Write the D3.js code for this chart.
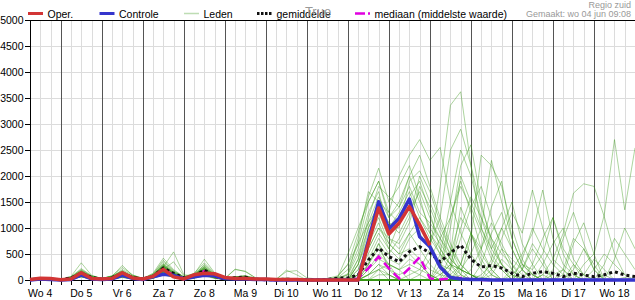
<!DOCTYPE html>
<html><head><meta charset="utf-8">
<script src="https://cdn.jsdelivr.net/npm/d3@7"></script>
<style>
body{margin:0;background:#fff}
svg{display:block}
text{font-family:"Liberation Sans",Arial,Helvetica,sans-serif}
</style>
</head><body>
<svg id="chart" width="635" height="300"></svg>
<script>
// time steps (hours since Wo 4 00:00)
const hours = [6,12,18,24,30,36,42,48,54,60,66,72,78,84,90,96,102,108,114,120,126,132,138,144,150,156,162,168,174,180,186,192,198,204,210,216,222,228,234,240,246,252,258,264,270,276,282,288,294,300,306,312,318,324,330,336,342,348,354,360];
const dayLabels = ["Wo 4","Do 5","Vr 6","Za 7","Zo 8","Ma 9","Di 10","Wo 11","Do 12","Vr 13","Za 14","Zo 15","Ma 16","Di 17","Wo 18"];
const dayLabelHours = [12,36,60,84,108,132,156,180,204,228,252,276,300,324,348];
const dayLineHours = [24,48,72,96,120,144,168,192,216,240,264,288,312,336,360];
const yTicks = [0,500,1000,1500,2000,2500,3000,3500,4000,4500,5000];

const oper = [10,35,30,5, 20,140,30,20, 30,140,40,20, 70,205,60,20, 100,130,120,50, 30,30,20,20, 10,10,10,0, 0,0,0,
  0,0,700,1385, 885,1095,1410,1060, 670];
const controle = [0,20,10,0, 10,100,20,10, 20,90,30,10, 60,110,90,20, 60,90,80,30, 20,20,10,10, 0,0,0,0, 0,0,0,
  0,0,750,1506, 980,1190,1555,830, 640,250,50,20, 10,10,0,0, 0,0,0,0, 0,0,0,0, 0,0,0,0, 0];
const gemiddelde = [10,15,15,5, 40,130,50,15, 45,125,50,20, 70,230,130,40, 75,190,75,25, 45,55,15,5, 5,15,10,5, 5,10,35,
  40,95,385,615, 450,350,545,640, 520,350,520,673, 400,250,280,230, 130,65,130,160, 130,65,130,95, 65,100,160,95, 65];
const mediaan = [0,10,10,0, 30,120,40,10, 40,110,40,10, 60,200,100,30, 60,170,70,20, 30,40,10,0, 0,0,0,0, 0,0,0,
  0,30,230,450, 225,30,230,440, 30,10,30,40, 10,0,0,0, 0,0,0,0, 0,0,0,0, 0,0,0,0, 0];

const leden = [
 [0,10,20,0,40,150,60,20,50,120,60,20,80,250,120,40,90,200,80,30,40,60,20,10,10,20,10,0,0,10,30, 120,600,1300,1700,900,1200,1500,900,600,300,200,1400,900,300,100,0,0,200,600,300,0,0,300,100,0,0,0,50,0],
 [10,30,20,10,50,180,70,30,60,150,80,30,100,300,150,50,100,250,100,40,60,80,30,10,0,10,0,0,10,20,60, 300,900,1600,2150,1500,1800,2200,1600,900,500,300,200,100,50,0,0,100,300,100,0,0,0,0,0,0,100,0,0,0],
 [0,0,10,0,30,120,40,10,40,100,50,20,60,200,350,80,60,150,70,20,30,40,10,0,0,0,0,0,0,0,20, 50,400,1000,1400,1100,900,1300,1700,1200,800,400,200,100,0,0,0,0,0,0,0,100,200,0,0,0,0,0,0,0],
 [20,40,30,10,60,200,80,30,70,180,60,20,90,280,130,40,80,300,120,30,50,70,20,0,10,30,20,0,0,0,10, 0,300,800,1200,700,500,900,600,300,100,50,0,0,0,0,0,0,0,0,0,0,0,0,0,0,0,0,0,0],
 [0,20,0,0,30,90,30,10,30,80,40,10,50,180,100,30,60,130,60,20,20,30,10,0,0,0,0,0,0,20,40, 200,700,1500,1900,1300,2000,2400,2700,2300,2550,1500,900,500,200,0,0,0,0,0,100,0,0,0,0,0,0,0,0,0],
 [10,10,20,0,50,160,60,20,60,200,90,30,110,350,180,60,120,280,110,40,50,60,30,10,20,40,10,0,0,0,0, 0,100,500,900,600,1100,1400,1000,700,1200,2500,2900,2200,1400,800,300,100,0,0,0,0,0,0,0,0,0,0,0,0],
 [0,0,0,0,20,80,20,0,20,60,30,10,40,150,80,20,40,100,40,10,10,20,0,0,0,0,0,0,0,0,0, 0,0,200,400,300,200,300,200,100,0,0,0,0,0,0,0,0,0,0,0,0,0,0,0,0,0,0,0,0],
 [30,50,20,10,70,330,90,30,80,170,70,20,100,260,140,50,90,220,90,30,200,170,40,10,0,190,100,0,0,0,30, 100,800,1700,1500,1100,1000,1900,2100,1700,1100,600,200,0,0,0,0,0,0,0,0,0,0,0,0,0,0,0,0,0],
 [0,10,10,0,40,140,50,10,50,130,50,20,70,220,110,40,80,180,80,20,40,50,20,0,0,0,0,0,0,0,0, 0,0,100,300,200,100,200,100,0,0,0,100,800,2400,2200,1800,1000,400,100,0,0,0,0,0,0,0,0,0,0],
 [10,20,20,10,40,110,40,20,50,110,50,20,70,200,110,30,70,170,70,20,30,40,10,0,0,0,0,0,0,0,0, 0,0,0,0,0,0,100,200,600,1800,3360,3620,2200,1000,500,200,0,0,0,0,0,0,0,0,0,0,0,0,0],
 [0,0,0,0,30,100,40,10,30,90,40,10,60,190,90,30,60,140,60,20,30,40,10,0,0,0,0,0,0,0,0, 0,200,600,1000,700,500,600,400,200,100,300,1000,1600,1200,800,500,300,100,0,0,0,0,0,0,0,0,0,0,0],
 [20,30,10,0,50,170,60,20,60,160,60,20,90,320,160,50,100,260,100,30,50,70,20,10,0,0,0,0,0,0,0, 0,0,0,100,100,0,0,0,0,0,0,0,0,100,300,800,1300,900,1730,1000,400,200,0,0,0,0,0,0,0],
 [0,10,0,0,20,70,30,10,30,70,30,10,40,130,70,20,40,110,50,10,20,30,10,0,0,0,0,0,0,0,0, 0,0,100,200,0,0,0,0,0,0,0,0,0,0,0,0,0,0,0,0,0,0,0,100,400,200,0,0,0],
 [0,20,30,10,60,220,80,30,80,240,100,30,130,420,200,60,130,330,130,40,60,80,30,10,10,20,10,0,0,10,20, 100,500,1100,1600,1200,1500,2000,1500,1000,700,400,200,100,0,0,0,0,0,0,0,0,0,0,0,0,0,0,0,0],
 [10,10,10,0,40,130,50,20,50,120,50,20,80,250,540,100,80,200,80,30,40,50,20,0,0,0,0,0,0,0,0, 0,300,900,1300,800,700,1100,1800,1400,900,500,2000,1500,1000,600,300,0,0,0,0,0,0,0,0,0,0,0,0,0],
 [0,0,10,0,30,100,40,10,40,100,40,10,60,180,90,30,60,150,60,20,30,40,10,0,0,0,0,0,0,0,0, 0,0,0,0,0,0,0,0,0,0,100,300,900,600,1400,1900,800,300,100,0,0,0,0,0,0,0,0,0,0],
 [0,0,0,0,20,60,20,0,20,50,20,0,30,100,50,10,30,80,30,0,10,10,0,0,0,0,0,0,0,0,0, 0,0,0,0,0,0,0,0,0,100,300,0,0,0,0,0,0,0,0,0,0,0,0,0,0,0,0,0,0],
 [10,20,20,0,50,150,60,20,60,140,60,20,90,280,130,40,90,230,90,30,50,60,20,10,0,10,0,0,0,0,50, 500,1000,1500,1900,1200,1400,1800,1300,1100,800,1200,1800,1400,900,400,200,0,0,0,0,0,0,0,0,0,0,0,0,0],
 [0,10,10,0,40,120,50,20,50,110,50,20,70,230,110,40,80,190,80,20,40,50,10,0,0,0,0,0,0,0,0, 0,0,300,700,400,300,500,300,100,0,0,0,0,0,0,0,0,0,0,100,400,900,1670,1850,1800,1220,500,100,0],
 [0,0,0,0,30,90,30,10,30,80,30,10,50,160,80,20,50,120,50,10,20,30,10,0,0,0,0,0,0,0,0, 0,0,0,0,0,0,0,0,0,0,0,0,0,0,0,0,0,0,0,0,0,0,0,300,500,1250,2700,1350,2540],
 [0,10,20,0,40,130,50,20,50,130,60,20,80,260,120,40,80,210,80,30,40,50,20,0,0,0,0,0,0,0,0, 0,200,700,1100,600,400,800,1000,700,300,100,0,0,0,0,0,200,500,900,1730,800,300,100,0,0,0,0,0,0],
 [20,40,20,10,60,190,70,30,70,280,90,30,110,380,170,60,110,400,140,40,60,80,30,10,0,0,0,0,0,0,0, 0,100,300,600,300,200,400,300,100,0,0,0,0,300,900,1300,600,200,0,0,0,0,0,0,0,0,0,0,0],
 [0,10,0,0,30,110,40,10,40,90,40,10,60,170,90,30,60,140,60,20,30,40,10,0,0,0,0,0,0,0,0, 0,100,400,800,500,800,1200,2000,1500,1000,600,300,100,0,0,0,0,0,0,0,0,0,0,0,0,0,0,0,0],
 [10,20,10,0,40,140,50,20,50,120,50,20,80,240,120,40,80,190,80,30,40,60,20,0,0,0,0,0,0,0,0, 0,0,0,200,300,200,0,0,0,200,1000,2200,2600,1500,700,300,100,0,0,0,0,0,0,0,0,0,0,0,0],
 [0,0,10,0,30,100,40,10,30,100,40,10,60,200,100,30,60,160,60,20,30,40,10,0,0,0,0,0,0,0,0, 0,0,0,0,0,0,0,0,0,0,0,0,0,0,200,600,400,200,0,0,0,0,0,0,0,0,0,0,0],
 [0,10,10,0,40,120,50,20,50,120,50,20,70,210,100,30,70,170,70,20,40,50,20,0,0,0,0,0,0,0,0, 0,300,1000,1500,1300,1100,1600,1900,1300,600,300,100,0,0,0,0,0,0,0,0,0,0,0,0,0,0,0,0,0],
 [10,30,20,10,50,160,60,20,60,150,60,20,90,270,130,40,90,230,90,30,210,160,40,10,0,0,0,0,0,0,0, 0,0,0,0,0,0,0,0,0,0,0,0,0,0,0,0,0,0,0,300,700,1000,400,100,0,0,0,0,0],
 [0,0,0,0,20,80,30,10,30,80,30,10,50,150,70,20,50,120,50,10,20,30,10,0,0,0,0,0,0,0,0, 0,0,200,500,300,0,0,0,0,500,1500,2500,2000,1200,600,1000,1500,700,300,0,0,0,0,0,0,0,0,0,0],
 [0,10,10,0,30,110,40,10,40,100,40,10,60,190,90,30,60,150,60,20,30,40,10,0,0,0,0,0,0,0,0, 0,0,0,0,0,0,0,0,0,0,0,200,500,1000,2300,1500,800,300,200,500,1200,600,300,0,0,0,0,0,0],
 [0,0,0,0,30,90,40,10,30,90,30,10,50,180,90,30,60,140,50,20,30,40,10,0,0,0,0,0,0,0,0, 0,0,300,700,200,0,0,0,0,0,0,0,0,0,0,0,0,0,0,0,0,0,0,0,0,0,0,0,0],
 [10,20,20,10,50,150,50,20,50,130,50,20,80,230,110,40,80,200,80,30,40,50,20,10,0,0,0,0,0,0,0, 0,400,1200,1800,1600,1400,2000,2400,1800,1200,700,300,100,0,0,0,0,0,0,0,0,0,0,0,0,0,0,0,0],
 [0,10,0,0,30,100,40,10,40,110,40,10,60,200,100,30,70,170,70,20,30,40,10,0,0,0,0,0,0,0,0, 0,0,100,200,100,0,0,0,0,0,0,0,0,0,0,0,0,0,0,0,0,200,800,600,200,0,0,0,0],
 [20,30,20,0,50,170,60,20,70,170,70,30,100,300,150,50,100,250,100,30,60,70,20,10,0,0,0,0,0,0,0, 0,0,0,0,0,0,0,0,0,0,200,800,1400,1800,1200,600,200,0,0,0,0,0,0,0,0,0,0,0,0],
 [0,0,0,0,20,70,30,10,20,70,30,10,40,130,60,20,40,100,40,10,20,20,10,0,0,0,0,0,0,0,0, 0,0,0,0,0,0,0,0,0,0,0,0,200,600,1100,700,300,0,0,0,0,0,0,0,0,0,0,0,0],
 [0,10,10,0,40,130,50,20,50,110,50,20,70,220,100,40,70,180,70,20,40,50,20,0,0,0,0,0,0,0,0, 0,100,600,1000,800,600,900,1200,800,500,200,0,0,0,0,0,0,0,0,0,0,0,0,0,0,0,0,0,0],
 [10,10,0,0,30,110,40,10,40,100,40,10,60,190,90,30,60,150,60,20,30,40,10,0,0,0,0,0,0,0,0, 0,0,0,0,0,0,0,0,0,0,0,0,0,0,0,0,0,0,0,0,0,100,700,1100,500,0,0,0,0],
 [0,20,10,0,40,140,50,20,60,140,60,20,80,250,120,40,80,210,80,30,40,60,20,0,0,0,0,0,0,0,0, 0,0,0,0,0,0,0,0,0,0,0,0,0,0,0,0,0,400,1000,600,300,100,0,0,0,0,0,0,0],
 [0,0,0,0,20,60,20,0,20,50,20,0,30,110,50,20,40,90,40,10,10,20,0,0,0,0,0,0,0,0,0, 0,0,0,0,0,0,0,0,0,0,0,300,900,500,200,0,0,0,0,0,0,0,200,600,300,0,0,0,0],
 [10,20,10,0,50,160,60,20,60,150,60,20,90,280,130,40,90,220,90,30,50,60,20,0,20,160,180,40,20,30,80, 300,700,1100,1400,1000,1300,1700,1200,900,600,300,200,100,0,0,0,0,0,0,0,0,0,0,0,0,0,0,0,0],
 [0,0,0,0,30,80,30,10,30,80,30,10,50,160,80,20,50,130,50,10,20,30,10,0,0,0,0,0,0,0,0, 0,0,0,0,0,0,0,100,400,800,500,100,0,0,0,0,0,0,0,0,0,0,0,0,0,0,0,0,0],
 [0,10,10,0,40,120,40,10,40,110,40,10,70,210,100,30,70,170,70,20,30,40,10,0,0,0,0,0,0,0,0, 0,0,0,0,0,0,0,0,0,0,500,1200,900,400,100,0,0,0,0,0,0,0,0,0,0,0,0,0,0],
 [0,0,0,0,20,70,20,10,20,60,20,10,40,140,60,20,40,110,40,10,10,20,0,0,0,0,0,0,0,0,0, 0,0,0,0,0,0,0,0,0,0,0,0,0,0,0,0,0,0,0,0,200,800,1300,700,200,0,0,0,0],
 [10,20,10,0,40,130,50,20,50,120,50,20,80,230,110,40,80,190,80,30,40,50,20,0,0,0,0,0,0,0,0, 0,0,0,0,0,0,0,0,0,0,0,0,0,0,0,0,0,0,0,0,0,0,0,0,0,300,800,500,200],
 [0,10,0,0,30,100,40,10,40,100,40,10,60,180,90,30,60,150,60,20,30,40,10,0,0,0,0,0,0,0,0, 0,0,0,0,0,0,0,0,0,0,0,0,0,0,100,400,200,0,0,0,0,0,0,0,0,0,0,0,0],
 [0,0,10,0,30,90,30,10,30,90,30,10,50,170,80,30,50,140,50,20,20,30,10,0,0,0,0,0,0,0,0, 0,0,0,0,0,0,0,0,0,0,0,0,0,0,0,0,0,0,0,0,0,0,0,0,0,0,400,1000,600],
 [0,10,10,0,40,110,40,10,40,100,40,10,60,190,90,30,60,160,60,20,30,40,10,0,0,0,0,0,0,0,0, 0,0,0,0,0,0,0,0,0,300,1200,1900,1300,600,200,0,0,0,0,0,0,0,0,0,0,0,0,0,0],
 [0,0,0,0,20,80,30,10,30,80,30,10,50,150,70,20,50,120,50,10,20,30,10,0,0,0,0,0,0,0,0, 0,0,0,0,0,0,0,0,0,0,0,0,0,0,0,0,0,0,300,800,1200,500,100,0,0,0,0,0,0],
 [10,10,10,0,40,120,50,20,50,110,50,20,70,210,100,30,70,170,70,20,40,50,20,0,0,0,0,0,0,0,0, 0,0,0,0,0,0,0,0,0,0,0,0,0,0,0,0,0,200,700,400,0,0,0,0,0,0,0,0,0],
 [0,0,0,0,20,60,20,10,20,60,20,10,40,120,60,20,40,100,40,10,20,20,10,0,0,0,0,0,0,0,0, 0,0,100,300,100,0,0,0,0,0,0,0,0,0,0,0,0,0,0,0,0,0,0,0,200,500,300,100],
 [0,10,10,0,30,100,40,10,40,90,40,10,60,170,80,30,60,140,60,20,30,40,10,0,0,0,0,0,0,0,0, 0,0,0,0,0,0,0,0,0,0,0,0,0,0,400,1000,600,200,0,0,0,0,0,0,0,0,0,0,0]
];

const svg = d3.select("#chart");
const x = d3.scaleLinear().domain([6, 360]).range([30, 635]);
const y = d3.scaleLinear().domain([0, 5000]).range([280, 20]);
const px = v => Math.round(x(v)) + 0.5;
const py = v => Math.round(y(v)) + 0.5;

// light grid
const g = svg.append("g");
g.selectAll("line.vg").data(hours.filter(h => h % 24 !== 0 && h > 6)).join("line")
  .attr("x1", px).attr("x2", px).attr("y1", 20).attr("y2", 280)
  .attr("stroke", "#dcdcdc").attr("stroke-width", 1);
g.selectAll("line.hg").data(yTicks.filter(v => v > 0 && v < 5000)).join("line")
  .attr("x1", 30).attr("x2", 635).attr("y1", py).attr("y2", py)
  .attr("stroke", "#dcdcdc").attr("stroke-width", 1);
// day lines
g.selectAll("line.dl").data(dayLineHours).join("line")
  .attr("x1", px).attr("x2", px).attr("y1", 20).attr("y2", 280)
  .attr("stroke", "#555").attr("stroke-width", 1);

// axes
const ax = svg.append("g");
ax.append("line").attr("x1", 30.5).attr("x2", 30.5).attr("y1", 20).attr("y2", 281).attr("stroke", "#000");
ax.append("line").attr("x1", 30).attr("x2", 635).attr("y1", 280.5).attr("y2", 280.5).attr("stroke", "#000");
ax.append("line").attr("x1", 30).attr("x2", 635).attr("y1", 20.5).attr("y2", 20.5).attr("stroke", "#000");
ax.selectAll("line.bt").data(hours).join("line")
  .attr("x1", px).attr("x2", px).attr("y1", 280).attr("y2", 285).attr("stroke", "#000");
ax.selectAll("line.lt").data(yTicks).join("line")
  .attr("x1", 25).attr("x2", 30).attr("y1", py).attr("y2", py).attr("stroke", "#000");
ax.selectAll("text.yl").data(yTicks).join("text")
  .attr("x", 23.5).attr("y", d => y(d)).attr("dy", "0.36em")
  .attr("text-anchor", "end").attr("font-size", "10.5px").attr("fill", "#000")
  .text(d => d);
ax.selectAll("text.xl").data(dayLabels).join("text")
  .attr("x", (d, i) => x(dayLabelHours[i])).attr("y", 296.5)
  .attr("text-anchor", "middle").attr("font-size", "10.5px").attr("fill", "#000")
  .text(d => d);

// lines
const line = d3.line().x((d, i) => x(hours[i])).y(d => y(d)).defined(d => d != null);
const data = svg.append("g");
data.selectAll("path.m").data(leden).join("path")
  .attr("d", line).attr("fill", "none")
  .attr("stroke", "#3a9818").attr("stroke-opacity", 0.42).attr("stroke-width", 1);
data.append("path").attr("d", line(mediaan)).attr("fill", "none")
  .attr("stroke", "#e000e0").attr("stroke-width", 2.5).attr("stroke-dasharray", "9,5");
data.append("path").attr("d", line(gemiddelde)).attr("fill", "none")
  .attr("stroke", "#111").attr("stroke-width", 3).attr("stroke-dasharray", "3,3");
data.append("path").attr("d", line(controle)).attr("fill", "none")
  .attr("stroke", "#3535cc").attr("stroke-width", 3.5).attr("stroke-linejoin", "round");
data.append("path").attr("d", line(oper)).attr("fill", "none")
  .attr("stroke", "#d23535").attr("stroke-width", 3.5).attr("stroke-linejoin", "round");

// legend
const legend = [
  {name: "Oper.", x: 28, color: "#d23535", w: 3, dash: null, op: 1},
  {name: "Controle", x: 99.5, color: "#3535cc", w: 3, dash: null, op: 1},
  {name: "Leden", x: 184, color: "#3a9818", w: 1.5, dash: null, op: 0.33},
  {name: "gemiddelde", x: 257, color: "#111", w: 3, dash: "2.5,1.5", op: 1},
  {name: "mediaan (middelste waarde)", x: 355, color: "#e000e0", w: 2.5, dash: "10,3", op: 1}
];
const lg = svg.append("g");
svg.append("text").attr("x", 318).attr("y", 15.5).attr("text-anchor", "middle")
  .attr("font-size", "13px").attr("fill", "#999").text("True");
legend.forEach(l => {
  lg.append("line").attr("x1", l.x).attr("x2", l.x + 15).attr("y1", 13.5).attr("y2", 13.5)
    .attr("stroke", l.color).attr("stroke-width", l.w).attr("stroke-opacity", l.op)
    .attr("stroke-dasharray", l.dash);
  lg.append("text").attr("x", l.x + 19.5).attr("y", 17.5).attr("font-size", "10.5px")
    .attr("fill", "#000").text(l.name);
});
svg.append("text").attr("x", 631).attr("y", 7.5).attr("text-anchor", "end")
  .attr("font-size", "9px").attr("fill", "#999").text("Regio zuid");
svg.append("text").attr("x", 631).attr("y", 16.5).attr("text-anchor", "end")
  .attr("font-size", "9px").attr("fill", "#999").text("Gemaakt: wo 04 jun 09:08");
</script>
</body></html>
